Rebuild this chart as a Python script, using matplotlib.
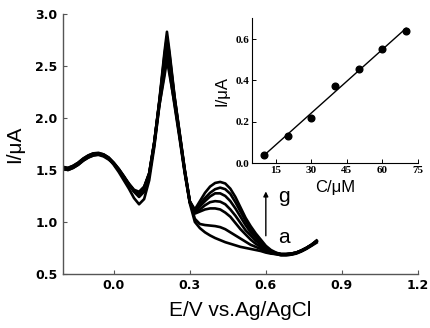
import numpy as np
import matplotlib
matplotlib.use("Agg")
import matplotlib.pyplot as plt

# ---------------- data ----------------
potential = [-0.20, -0.18, -0.16, -0.14, -0.12, -0.10, -0.08, -0.06, -0.04, -0.02,
             0.00, 0.02, 0.04, 0.06, 0.08, 0.10, 0.12, 0.14, 0.16, 0.18,
             0.20, 0.21, 0.22, 0.24, 0.26, 0.28, 0.30, 0.32, 0.34, 0.36,
             0.38, 0.40, 0.42, 0.44, 0.46, 0.48, 0.50, 0.52, 0.54, 0.56,
             0.58, 0.60, 0.62, 0.64, 0.66, 0.68, 0.70, 0.72, 0.74, 0.76,
             0.78, 0.80]

curve_a = [1.52, 1.51, 1.53, 1.56, 1.60, 1.63, 1.65, 1.655, 1.64, 1.61,
           1.55, 1.48, 1.40, 1.32, 1.23, 1.17, 1.22, 1.40, 1.72, 2.12,
           2.44, 2.62, 2.45, 2.12, 1.80, 1.47, 1.18, 1.00, 0.94, 0.90,
           0.87, 0.845, 0.825, 0.805, 0.79, 0.775, 0.76, 0.75, 0.74, 0.73,
           0.72, 0.705, 0.695, 0.69, 0.68, 0.68, 0.685, 0.695, 0.715, 0.74,
           0.77, 0.80]
curve_b = [1.53, 1.52, 1.54, 1.57, 1.61, 1.64, 1.66, 1.665, 1.65, 1.62,
           1.57, 1.51, 1.44, 1.36, 1.29, 1.24, 1.29, 1.45, 1.76, 2.17,
           2.63, 2.83, 2.64, 2.21, 1.86, 1.51, 1.20, 1.03, 0.98, 0.97,
           0.965, 0.96, 0.95, 0.93, 0.90, 0.87, 0.84, 0.81, 0.78, 0.76,
           0.74, 0.72, 0.70, 0.69, 0.68, 0.68, 0.685, 0.70, 0.72, 0.745,
           0.775, 0.81]
curve_c = [1.51, 1.50, 1.52, 1.55, 1.59, 1.62, 1.64, 1.645, 1.63, 1.60,
           1.56, 1.50, 1.43, 1.36, 1.30, 1.28, 1.33, 1.47, 1.77, 2.15,
           2.52, 2.70, 2.53, 2.17, 1.83, 1.49, 1.19, 1.08, 1.10, 1.12,
           1.13, 1.13, 1.12, 1.09, 1.05, 0.99, 0.93, 0.88, 0.83, 0.79,
           0.76, 0.73, 0.71, 0.70, 0.69, 0.69, 0.695, 0.705, 0.725, 0.75,
           0.78, 0.815]
curve_d = [1.52, 1.51, 1.53, 1.56, 1.60, 1.63, 1.65, 1.65, 1.64, 1.61,
           1.56, 1.50, 1.43, 1.36, 1.30, 1.27, 1.32, 1.45, 1.74, 2.12,
           2.40, 2.56, 2.42, 2.14, 1.82, 1.48, 1.19, 1.09, 1.12, 1.16,
           1.19, 1.20, 1.195, 1.17, 1.12, 1.06, 0.99, 0.92, 0.87, 0.82,
           0.78, 0.74, 0.71, 0.695, 0.685, 0.685, 0.69, 0.70, 0.72, 0.745,
           0.775, 0.81]
curve_e = [1.52, 1.52, 1.54, 1.57, 1.61, 1.64, 1.66, 1.66, 1.65, 1.62,
           1.57, 1.51, 1.44, 1.37, 1.31, 1.29, 1.34, 1.47, 1.77, 2.16,
           2.57, 2.75, 2.58, 2.19, 1.85, 1.50, 1.20, 1.10, 1.15, 1.20,
           1.245, 1.275, 1.275, 1.25, 1.20, 1.13, 1.05, 0.97, 0.90, 0.85,
           0.80, 0.75, 0.72, 0.70, 0.69, 0.69, 0.695, 0.705, 0.725, 0.75,
           0.78, 0.815]
curve_f = [1.51, 1.50, 1.52, 1.55, 1.59, 1.62, 1.64, 1.65, 1.64, 1.61,
           1.56, 1.50, 1.43, 1.36, 1.30, 1.28, 1.33, 1.46, 1.76, 2.14,
           2.48, 2.66, 2.49, 2.16, 1.83, 1.49, 1.19, 1.11, 1.17, 1.23,
           1.28, 1.315, 1.33, 1.315, 1.27, 1.19, 1.10, 1.01, 0.93, 0.87,
           0.81, 0.76, 0.72, 0.70, 0.69, 0.69, 0.695, 0.705, 0.725, 0.75,
           0.78, 0.82]
curve_g = [1.52, 1.51, 1.53, 1.56, 1.60, 1.63, 1.65, 1.655, 1.64, 1.61,
           1.56, 1.50, 1.43, 1.36, 1.30, 1.28, 1.33, 1.46, 1.76, 2.15,
           2.60, 2.78, 2.61, 2.20, 1.85, 1.50, 1.20, 1.12, 1.20, 1.28,
           1.34, 1.375, 1.385, 1.37, 1.32, 1.24, 1.14, 1.04, 0.96, 0.89,
           0.83, 0.77, 0.73, 0.705, 0.69, 0.69, 0.695, 0.705, 0.725, 0.75,
           0.78, 0.82]

curves = [curve_a, curve_b, curve_c, curve_d, curve_e, curve_f, curve_g]

conc = [10, 20, 30, 40, 50, 60, 70]
peak_current = [0.04, 0.13, 0.22, 0.375, 0.455, 0.55, 0.64]

main_xticks = [0.0, 0.3, 0.6, 0.9, 1.2]
main_yticks = [0.5, 1.0, 1.5, 2.0, 2.5, 3.0]
inset_xticks = [15, 30, 45, 60, 75]
inset_yticks = [0.0, 0.2, 0.4, 0.6]

# ---------------- figure ----------------
fig = plt.figure(figsize=(4.30, 3.28), dpi=100)
ax = fig.add_axes([0.1465, 0.165, 0.8255, 0.792])

for c in curves:
    ax.plot(potential, c, color="black", lw=1.9, solid_joinstyle="round")

ax.set_xlim(-0.2, 1.2)
ax.set_ylim(0.5, 3.0)
ax.set_xticks(main_xticks)
ax.set_yticks(main_yticks)
ax.set_xticklabels([f"{v:.1f}" for v in main_xticks])
ax.set_yticklabels([f"{v:.1f}" for v in main_yticks])
for s in ["top", "right"]:
    ax.spines[s].set_visible(False)
for s in ["left", "bottom"]:
    ax.spines[s].set_color("#555555")
    ax.spines[s].set_linewidth(1.0)
ax.tick_params(direction="in", length=3, width=0.8, color="#555555",
               labelsize=9, pad=4)
for lab in ax.get_xticklabels() + ax.get_yticklabels():
    lab.set_fontweight("bold")
    lab.set_family("DejaVu Sans")

ax.set_xlabel("E/V vs.Ag/AgCl", fontsize=15, family="Liberation Sans", labelpad=6)
ax.set_ylabel("I/\u03bcA", fontsize=15, family="Liberation Sans", labelpad=8)

# arrow and labels
ax.annotate("", xy=(0.6, 1.32), xytext=(0.6, 0.84),
            arrowprops=dict(arrowstyle="-|>", color="black", lw=1.0,
                            mutation_scale=7))
ax.text(0.648, 1.24, "g", fontsize=15, family="Liberation Sans",
        ha="left", va="center")
ax.text(0.648, 0.85, "a", fontsize=15, family="Liberation Sans",
        ha="left", va="center")

# ---------------- inset ----------------
ins = fig.add_axes([0.586, 0.503, 0.386, 0.441])
ins.plot(conc, peak_current, "o", color="black", markersize=4.8)
coef = np.polyfit(conc, peak_current, 1)
xfit = np.array([conc[0], conc[-1]])
ins.plot(xfit, np.polyval(coef, xfit), color="black", lw=1.0)
ins.set_xlim(5, 75)
ins.set_ylim(0.0, 0.7)
ins.set_xticks(inset_xticks)
ins.set_yticks(inset_yticks)
ins.set_xticklabels([str(v) for v in inset_xticks])
ins.set_yticklabels([f"{v:.1f}" for v in inset_yticks])
for s in ["top", "right"]:
    ins.spines[s].set_visible(False)
for s in ["left", "bottom"]:
    ins.spines[s].set_linewidth(0.8)
ins.tick_params(direction="in", length=3, width=0.7, labelsize=8, pad=2)
for lab in ins.get_xticklabels() + ins.get_yticklabels():
    lab.set_fontweight("bold")
    lab.set_family("Liberation Serif")
ins.set_xlabel("C/\u03bcM", fontsize=12, family="Liberation Sans", labelpad=4)
ins.set_ylabel("I/\u03bcA", fontsize=12, family="Liberation Sans", labelpad=4)

fig.savefig("out.png", dpi=100)
